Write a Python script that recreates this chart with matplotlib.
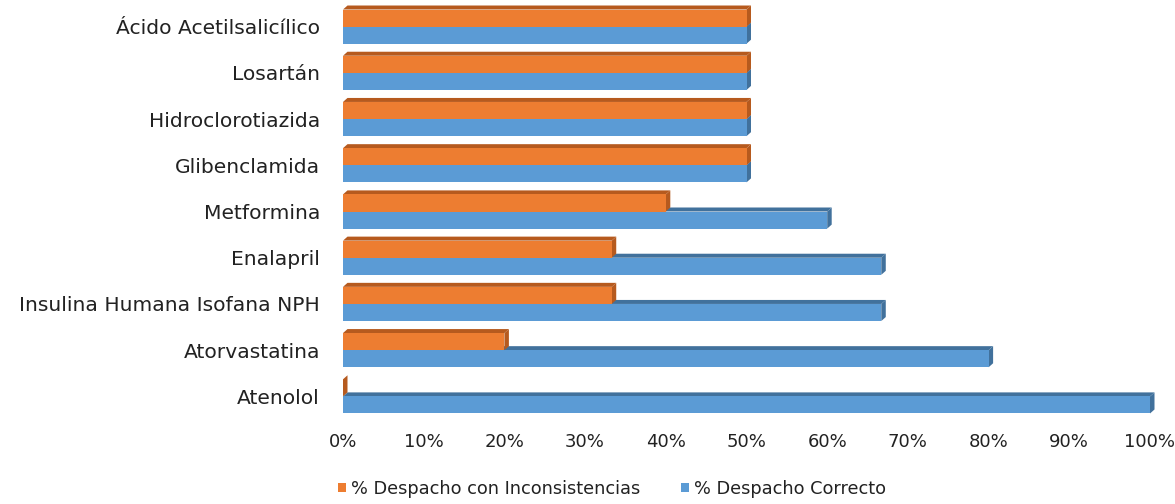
import matplotlib
matplotlib.use("Agg")
import matplotlib.pyplot as plt
from matplotlib.patches import Polygon, Patch
from matplotlib.transforms import IdentityTransform
from matplotlib.ticker import PercentFormatter

categories = ["Atenolol", "Atorvastatina", "Insulina Humana Isofana NPH", "Enalapril",
              "Metformina", "Glibenclamida", "Hidroclorotiazida", "Losartán",
              "Ácido Acetilsalicílico"]
correcto = [100, 80, 66.7, 66.7, 60, 50, 50, 50, 50]
inconsistencias = [0, 20, 33.3, 33.3, 40, 50, 50, 50, 50]
series_names = ["% Despacho con Inconsistencias", "% Despacho Correcto"]
x_ticks = [0, 10, 20, 30, 40, 50, 60, 70, 80, 90, 100]

plt.rcParams['font.family'] = ['DejaVu Sans']

W, H = 1175, 504
fig = plt.figure(figsize=(W / 100, H / 100), dpi=100)
ax = fig.add_axes([343 / W, 1 - 419.5 / H, (1150 - 343) / W, 416 / H])
ax.set_xlim(0, 100)
ax.set_ylim(-0.5, len(categories) - 0.5)

bh = 0.37
dx, dy = 4.5, 4.0  # depth in pixels

colors = {"blue": ("#5B9BD5", "#41719C"), "orange": ("#ED7D31", "#B65A1E")}


def bar3d(y, val, front, dark, z):
    x0, y0 = ax.transData.transform((0, y - bh / 2))
    x1, y1 = ax.transData.transform((val, y + bh / 2))
    top = Polygon([(x0, y1), (x1, y1), (x1 + dx, y1 + dy), (x0 + dx, y1 + dy)],
                  closed=True, transform=IdentityTransform(), facecolor=dark,
                  edgecolor="none", zorder=z, clip_on=False)
    side = Polygon([(x1, y0), (x1 + dx, y0 + dy), (x1 + dx, y1 + dy), (x1, y1)],
                   closed=True, transform=IdentityTransform(), facecolor=dark,
                   edgecolor="none", zorder=z, clip_on=False)
    ax.add_artist(top)
    ax.add_artist(side)


for i, cat in enumerate(categories):
    yb = i - bh / 2
    yo = i + bh / 2
    bar3d(yb, correcto[i], *colors["blue"], z=2)
    ax.barh(yb, correcto[i], height=bh, color=colors["blue"][0], zorder=3)
    bar3d(yo, inconsistencias[i], *colors["orange"], z=4)
    ax.barh(yo, inconsistencias[i], height=bh, color=colors["orange"][0], zorder=5)

ax.set_yticks(range(len(categories)))
ax.set_yticklabels(categories, fontsize=14.6, color="#222222")
ax.set_xticks(x_ticks)
ax.xaxis.set_major_formatter(PercentFormatter(decimals=0))
ax.tick_params(axis="x", labelsize=13, colors="#222222", length=0, pad=10)
ax.tick_params(axis="y", length=0, pad=16.5)
for s in ax.spines.values():
    s.set_visible(False)

handles = [Patch(facecolor=colors["orange"][0]), Patch(facecolor=colors["blue"][0])]
fig.legend(handles, series_names, loc="center", bbox_to_anchor=(612 / W, 1 - 489 / H),
           ncol=2, frameon=False, fontsize=12.8, handlelength=0.45, handleheight=0.45,
           handletextpad=0.25, columnspacing=2.3, labelcolor="#222222")

fig.savefig("out.png", dpi=100)
